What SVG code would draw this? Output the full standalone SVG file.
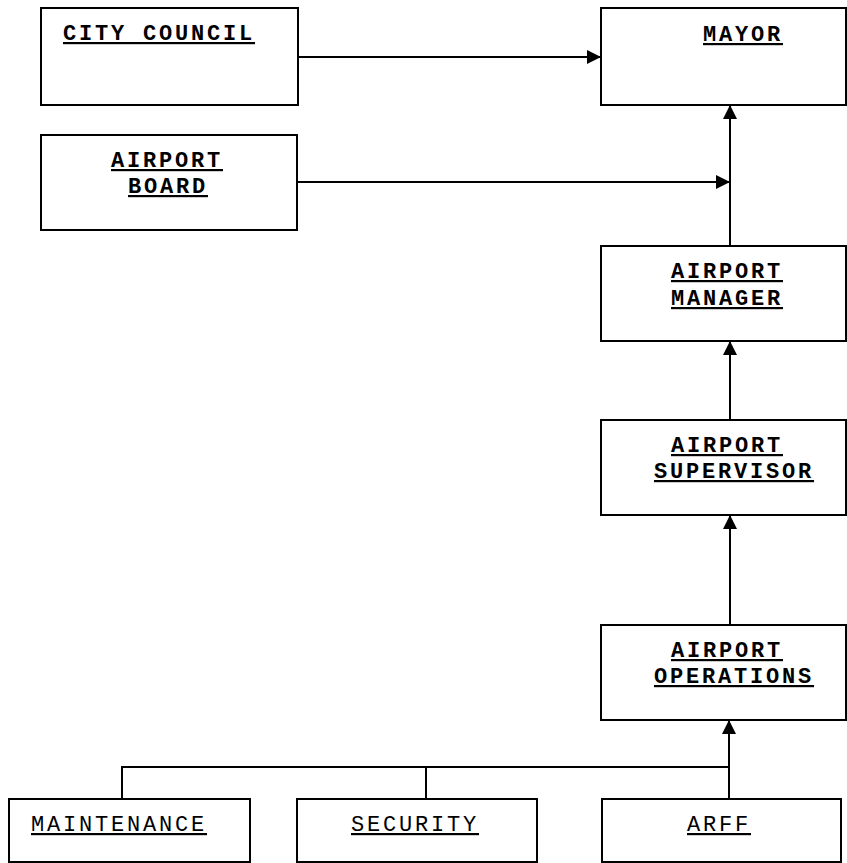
<svg xmlns="http://www.w3.org/2000/svg" width="847" height="863" viewBox="0 0 847 863">
<style>
.box{fill:#fff;stroke:#000;stroke-width:2}
.t{font-family:"Liberation Mono","Courier New",monospace;font-size:22px;letter-spacing:2.8px;font-weight:bold;text-decoration:underline;fill:#000}
.n{font-weight:normal}
.c{fill:none;stroke:#000;stroke-width:2}
</style>
<defs>
<marker id="ah" markerWidth="14" markerHeight="14" refX="14" refY="7" orient="auto" markerUnits="userSpaceOnUse">
<path d="M0,0 L14,7 L0,14 Z" fill="#000"/>
</marker>
</defs>
<g id="connectors">
<line class="c" x1="298" y1="57" x2="601" y2="57" marker-end="url(#ah)"/>
<line class="c" x1="297" y1="182" x2="730" y2="182" marker-end="url(#ah)"/>
<line class="c" x1="730" y1="246" x2="730" y2="105" marker-end="url(#ah)"/>
<line class="c" x1="730" y1="420" x2="730" y2="341" marker-end="url(#ah)"/>
<line class="c" x1="730" y1="625" x2="730" y2="515" marker-end="url(#ah)"/>
<line class="c" x1="729" y1="799" x2="729" y2="720" marker-end="url(#ah)"/>
<polyline class="c" points="122,799 122,767 729,767"/>
<line class="c" x1="426" y1="767" x2="426" y2="799"/>
</g>
<g id="city-council"><rect class="box" x="41" y="8" width="257" height="97"/><text class="t" x="63" y="40">CITY COUNCIL</text></g>
<g id="mayor"><rect class="box" x="601" y="8" width="245" height="97"/><text class="t" x="703" y="41">MAYOR</text></g>
<g id="airport-board"><rect class="box" x="41" y="135" width="256" height="95"/><text class="t" x="111" y="167">AIRPORT</text><text class="t" x="128" y="193">BOARD</text></g>
<g id="airport-manager"><rect class="box" x="601" y="246" width="245" height="95"/><text class="t" x="671" y="278">AIRPORT</text><text class="t" x="671" y="305">MANAGER</text></g>
<g id="airport-supervisor"><rect class="box" x="601" y="420" width="245" height="95"/><text class="t" x="671" y="452">AIRPORT</text><text class="t" x="654" y="478">SUPERVISOR</text></g>
<g id="airport-operations"><rect class="box" x="601" y="625" width="245" height="95"/><text class="t" x="671" y="657">AIRPORT</text><text class="t" x="654" y="683">OPERATIONS</text></g>
<g id="maintenance"><rect class="box" x="9" y="799" width="241" height="63"/><text class="t n" x="31" y="831">MAINTENANCE</text></g>
<g id="security"><rect class="box" x="297" y="799" width="240" height="63"/><text class="t n" x="351" y="831">SECURITY</text></g>
<g id="arff"><rect class="box" x="602" y="799" width="239" height="63"/><text class="t n" x="687" y="831">ARFF</text></g>
</svg>
